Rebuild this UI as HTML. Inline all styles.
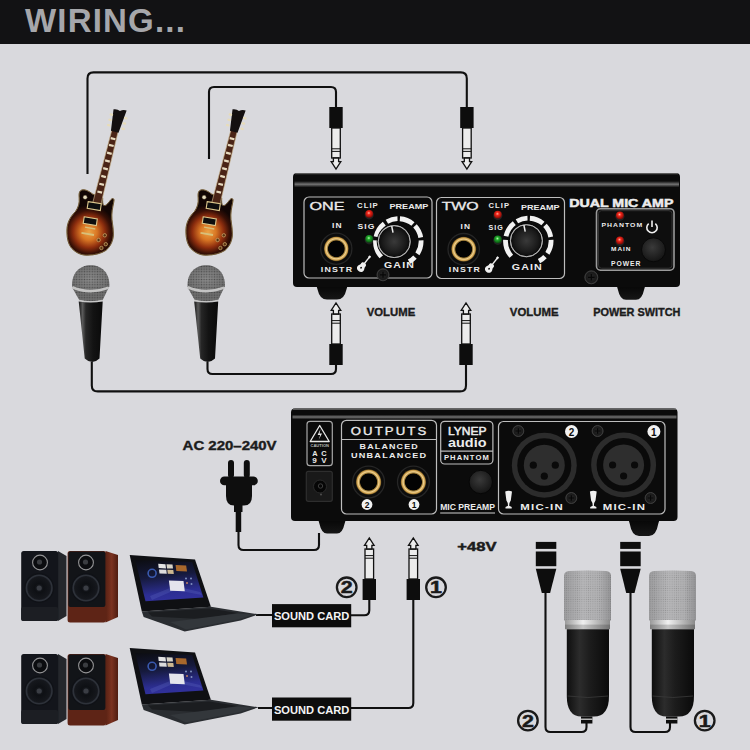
<!DOCTYPE html>
<html><head><meta charset="utf-8"><title>Wiring</title>
<style>
html,body{margin:0;padding:0;background:#d9d9dd;width:750px;height:750px;overflow:hidden}
svg{display:block}
text{font-family:"Liberation Sans",sans-serif}
</style></head><body>
<svg width="750" height="750" viewBox="0 0 750 750">
<defs>
  <g id="jackDown">
    <rect x="-6.7" y="0" width="13.4" height="21" fill="#0d0d0d"/>
    <rect x="-4.3" y="21" width="8.6" height="30" fill="#ececec" stroke="#111" stroke-width="1.3"/>
    <line x1="-4.3" y1="41.8" x2="4.3" y2="41.8" stroke="#111" stroke-width="1"/>
    <line x1="-4.3" y1="44.4" x2="4.3" y2="44.4" stroke="#111" stroke-width="1"/>
    <path d="M-2.6 51 L-2.6 54.6 L-4.8 54.6 L0 62 L4.8 54.6 L2.6 54.6 L2.6 51 Z" fill="#ececec" stroke="#111" stroke-width="1.3"/>
  </g>
  <radialGradient id="goldRing" cx="0.5" cy="0.5" r="0.5">
    <stop offset="0" stop-color="#030303"/>
    <stop offset="0.64" stop-color="#030303"/>
    <stop offset="0.69" stop-color="#8a6a2a"/>
    <stop offset="0.8" stop-color="#f2d28e"/>
    <stop offset="0.92" stop-color="#c89a48"/>
    <stop offset="1" stop-color="#4a3a18"/>
  </radialGradient>
  <radialGradient id="jackSurround" cx="0.5" cy="0.5" r="0.5">
    <stop offset="0.75" stop-color="#1e1e1e"/>
    <stop offset="1" stop-color="#0a0a0a"/>
  </radialGradient>
  <linearGradient id="devTop" x1="0" y1="0" x2="0" y2="1">
    <stop offset="0" stop-color="#3a3a3a"/>
    <stop offset="0.4" stop-color="#555"/>
    <stop offset="0.65" stop-color="#1c1c1c"/>
    <stop offset="1" stop-color="#0b0b0b"/>
  </linearGradient>
  <linearGradient id="hiBand" x1="0" y1="0" x2="0" y2="1">
    <stop offset="0" stop-color="#6a6a6a" stop-opacity="0"/>
    <stop offset="0.5" stop-color="#7a7a7a" stop-opacity="0.95"/>
    <stop offset="1" stop-color="#6a6a6a" stop-opacity="0"/>
  </linearGradient>
  <radialGradient id="knobG" cx="0.5" cy="0.5" r="0.5">
    <stop offset="0" stop-color="#3a3a3a"/>
    <stop offset="0.7" stop-color="#1a1a1a"/>
    <stop offset="0.9" stop-color="#0e0e0e"/>
    <stop offset="1" stop-color="#9a9a9a"/>
  </radialGradient>
  <radialGradient id="ledR" cx="0.45" cy="0.4" r="0.6">
    <stop offset="0" stop-color="#ffb0a0"/>
    <stop offset="0.35" stop-color="#f02418"/>
    <stop offset="1" stop-color="#7a0a06"/>
  </radialGradient>
  <radialGradient id="ledG" cx="0.45" cy="0.4" r="0.6">
    <stop offset="0" stop-color="#b8ffb0"/>
    <stop offset="0.35" stop-color="#1fa82a"/>
    <stop offset="1" stop-color="#0a4a10"/>
  </radialGradient>
  <radialGradient id="btnG" cx="0.45" cy="0.4" r="0.6">
    <stop offset="0" stop-color="#3a3a3a"/>
    <stop offset="1" stop-color="#151515"/>
  </radialGradient>
  <radialGradient id="screwG" cx="0.5" cy="0.5" r="0.5">
    <stop offset="0" stop-color="#262626"/>
    <stop offset="0.8" stop-color="#1a1a1a"/>
    <stop offset="1" stop-color="#3a3a3a"/>
  </radialGradient>
  <linearGradient id="footG" x1="0" y1="0" x2="0" y2="1">
    <stop offset="0" stop-color="#050505"/>
    <stop offset="1" stop-color="#161616"/>
  </linearGradient>
</defs>
<rect x="0" y="0" width="750" height="44" fill="#121214"/>
<text x="25" y="31.8" font-size="34" fill="#a6a7ab" font-weight="bold" textLength="161" lengthAdjust="spacingAndGlyphs" letter-spacing="1.2">WIRING...</text>
<g fill="none" stroke="#101010" stroke-width="2.1" stroke-linejoin="round">
  <path d="M87.5 174 V78.4 Q87.5 72.4 93.5 72.4 H460.8 Q466.8 72.4 466.8 78.4 V107"/>
  <path d="M209 159 V92 Q209 87 214 87 H331 Q336 87 336 92 V107"/>
  <path d="M91.8 362 V385.4 Q91.8 391.4 97.8 391.4 H460 Q466 391.4 466 385.4 V365"/>
  <path d="M207.5 362 V369 Q207.5 374 212.5 374 H331 Q336 374 336 369 V365"/>
  <path d="M238.5 530 V545 Q238.5 550 243.5 550 H314 Q319 550 319 545 V533"/>
  <path d="M256 615 H272 M351 615.3 H364.3 Q369.3 615.3 369.3 610.3 V600"/>
  <path d="M258 708 H272 M351 708 H408.3 Q413.3 708 413.3 703 V600"/>
  <path d="M545.5 593 V727 Q545.5 732 550.5 732 H581.5 Q586.5 732 586.5 727 V723"/>
  <path d="M630.5 593 V727 Q630.5 732 635.5 732 H665 Q670 732 670 727 V723"/>
</g>
<use href="#jackDown" transform="translate(336,107)"/>
<use href="#jackDown" transform="translate(466.9,107)"/>
<use href="#jackDown" transform="translate(336,365) scale(1,-1)"/>
<use href="#jackDown" transform="translate(466,365) scale(1,-1)"/>
<use href="#jackDown" transform="translate(369.3,600) scale(1,-1)"/>
<use href="#jackDown" transform="translate(413.3,600) scale(1,-1)"/>
<path d="M315.2 284 H348.8 Q346.8 287 346.3 290 Q344.3 299.5 337.00 299.5 H327.00 Q319.7 299.5 317.7 290 Q317.2 287 315.2 284 Z" fill="url(#footG)"/>
<path d="M615.5 284 H646.5 Q644.5 287 644.0 290 Q642.0 299.8 636.00 299.8 H626.00 Q620.0 299.8 618.0 290 Q617.5 287 615.5 284 Z" fill="url(#footG)"/>
<rect x="293" y="173" width="387" height="114" rx="4" fill="#0b0b0b"/>
<path d="M295 173.6 H678" stroke="#5a5a5a" stroke-width="1.4"/>
<rect x="294.5" y="181" width="384.5" height="6.5" fill="url(#hiBand)"/>
<rect x="304" y="197" width="128" height="81" rx="5" fill="none" stroke="#bdbdbd" stroke-width="1.2"/>
<rect x="436.5" y="197.5" width="128" height="81" rx="5" fill="none" stroke="#bdbdbd" stroke-width="1.2"/>
<text x="309.5" y="209.5" font-size="11" fill="#ececec" font-weight="normal" textLength="35" lengthAdjust="spacingAndGlyphs" stroke="#ececec" stroke-width="0.3">ONE</text>
<text x="357" y="207.8" font-size="6.6" fill="#ececec" font-weight="bold" textLength="21.8" lengthAdjust="spacingAndGlyphs" letter-spacing="0.9">CLIP</text>
<text x="389.5" y="208.8" font-size="8" fill="#ececec" font-weight="bold" textLength="38.8" lengthAdjust="spacingAndGlyphs" >PREAMP</text>
<text x="357.5" y="229.2" font-size="7" fill="#ececec" font-weight="bold" textLength="18" lengthAdjust="spacingAndGlyphs" letter-spacing="0.9">SIG</text>
<text x="332" y="228.2" font-size="7" fill="#ececec" font-weight="bold" textLength="10.6" lengthAdjust="spacingAndGlyphs" letter-spacing="0.9">IN</text>
<text x="320.8" y="271.8" font-size="6.6" fill="#ececec" font-weight="bold" textLength="32.4" lengthAdjust="spacingAndGlyphs" letter-spacing="0.9">INSTR</text>
<text x="384" y="268" font-size="8.2" fill="#ececec" font-weight="bold" textLength="31" lengthAdjust="spacingAndGlyphs" letter-spacing="0.9">GAIN</text>
<circle cx="369.2" cy="214.8" r="4.6" fill="#222"/>
<circle cx="369.2" cy="213.8" r="3.9" fill="url(#ledR)"/>
<circle cx="369.2" cy="239.8" r="4.6" fill="#222"/>
<circle cx="369.2" cy="238.8" r="3.9" fill="url(#ledG)"/>
<circle cx="336.3" cy="248.8" r="15.600000000000001" fill="#0c0c0c" stroke="#262626" stroke-width="1.3"/>
<circle cx="336.3" cy="248.8" r="12.4" fill="url(#goldRing)"/>
<path d="M381.36 256.76 A22.8 22.8 0 0 1 375.53 240.31 M376.00 236.76 A22.8 22.8 0 0 1 384.26 223.53 M386.90 221.75 A22.8 22.8 0 0 1 397.50 218.71 M399.89 218.76 A22.8 22.8 0 0 1 412.96 224.03 M414.97 225.95 A22.8 22.8 0 0 1 420.75 237.54 M421.07 240.31 A22.8 22.8 0 0 1 417.42 253.92 M414.97 257.05 A22.8 22.8 0 0 1 409.00 261.63" fill="none" stroke="#f2f2f2" stroke-width="4.8"/>
<circle cx="394.2" cy="241.6" r="17.5" fill="#050505"/>
<circle cx="394.2" cy="241.6" r="16.5" fill="url(#knobG)"/>
<circle cx="394.2" cy="241.6" r="16" fill="none" stroke="#b8b8b8" stroke-width="1"/>
<line x1="391.7" y1="226.1" x2="393.0" y2="232.6" stroke="#eee" stroke-width="1.5"/>
<g transform="translate(362,266.6) rotate(38)" fill="#f0f0f0"><rect x="-0.7" y="-12" width="1.4" height="9"/><rect x="-1.1" y="-13.5" width="2.2" height="2.5" rx="0.5"/><path d="M0 -4.5 C-2.2 -4.5 -3 -3.2 -2.6 -1.6 C-2.3 -0.5 -3.8 0.3 -3.8 2.2 C-3.8 4.4 -2 5.6 0 5.6 C2 5.6 3.8 4.4 3.8 2.2 C3.8 0.3 2.3 -0.5 2.6 -1.6 C3 -3.2 2.2 -4.5 0 -4.5 Z"/><circle cx="0" cy="1.5" r="0.9" fill="#0b0b0b"/></g>
<circle cx="383" cy="274.8" r="6" fill="url(#screwG)" stroke="#3c3c3c" stroke-width="1"/><path d="M380.0 274.8 L386.0 274.8 M383 271.8 L383 277.8" stroke="#070707" stroke-width="1.2"/>
<text x="441.7" y="210.3" font-size="11" fill="#ececec" font-weight="normal" textLength="37" lengthAdjust="spacingAndGlyphs" stroke="#ececec" stroke-width="0.3">TWO</text>
<text x="488.6" y="208.4" font-size="6.6" fill="#ececec" font-weight="bold" textLength="21.4" lengthAdjust="spacingAndGlyphs" letter-spacing="0.9">CLIP</text>
<text x="521" y="209.9" font-size="8" fill="#ececec" font-weight="bold" textLength="38.6" lengthAdjust="spacingAndGlyphs" >PREAMP</text>
<text x="488.6" y="230.2" font-size="7" fill="#ececec" font-weight="bold" textLength="15" lengthAdjust="spacingAndGlyphs" letter-spacing="0.9">SIG</text>
<text x="460.5" y="228.7" font-size="7" fill="#ececec" font-weight="bold" textLength="10.5" lengthAdjust="spacingAndGlyphs" letter-spacing="0.9">IN</text>
<text x="448.8" y="272.2" font-size="6.6" fill="#ececec" font-weight="bold" textLength="32.2" lengthAdjust="spacingAndGlyphs" letter-spacing="0.9">INSTR</text>
<text x="511.7" y="270.2" font-size="8.2" fill="#ececec" font-weight="bold" textLength="31.3" lengthAdjust="spacingAndGlyphs" letter-spacing="0.9">GAIN</text>
<circle cx="497.8" cy="215.6" r="4.6" fill="#222"/>
<circle cx="497.8" cy="214.6" r="3.9" fill="url(#ledR)"/>
<circle cx="497.8" cy="240.3" r="4.6" fill="#222"/>
<circle cx="497.8" cy="239.3" r="3.9" fill="url(#ledG)"/>
<circle cx="463.7" cy="249.2" r="15.7" fill="#0c0c0c" stroke="#262626" stroke-width="1.3"/>
<circle cx="463.7" cy="249.2" r="12.5" fill="url(#goldRing)"/>
<path d="M511.36 256.26 A22.8 22.8 0 0 1 505.53 239.81 M506.00 236.26 A22.8 22.8 0 0 1 514.26 223.03 M516.90 221.25 A22.8 22.8 0 0 1 527.50 218.21 M529.89 218.26 A22.8 22.8 0 0 1 542.96 223.53 M544.97 225.45 A22.8 22.8 0 0 1 550.75 237.04 M551.07 239.81 A22.8 22.8 0 0 1 547.42 253.42 M544.97 256.55 A22.8 22.8 0 0 1 539.00 261.13" fill="none" stroke="#f2f2f2" stroke-width="4.8"/>
<circle cx="526.4" cy="240.7" r="17.5" fill="#050505"/>
<circle cx="526.4" cy="240.7" r="16.5" fill="url(#knobG)"/>
<circle cx="526.4" cy="240.7" r="16" fill="none" stroke="#b8b8b8" stroke-width="1"/>
<line x1="523.9" y1="225.2" x2="525.1999999999999" y2="231.7" stroke="#eee" stroke-width="1.5"/>
<g transform="translate(490,267.5) rotate(38)" fill="#f0f0f0"><rect x="-0.7" y="-12" width="1.4" height="9"/><rect x="-1.1" y="-13.5" width="2.2" height="2.5" rx="0.5"/><path d="M0 -4.5 C-2.2 -4.5 -3 -3.2 -2.6 -1.6 C-2.3 -0.5 -3.8 0.3 -3.8 2.2 C-3.8 4.4 -2 5.6 0 5.6 C2 5.6 3.8 4.4 3.8 2.2 C3.8 0.3 2.3 -0.5 2.6 -1.6 C3 -3.2 2.2 -4.5 0 -4.5 Z"/><circle cx="0" cy="1.5" r="0.9" fill="#0b0b0b"/></g>
<text x="569.2" y="206.9" font-size="11" fill="#ececec" font-weight="bold" textLength="104.2" lengthAdjust="spacingAndGlyphs" stroke="#ececec" stroke-width="0.5">DUAL MIC AMP</text>
<rect x="596.5" y="208.7" width="77.5" height="61.5" rx="4" fill="#0e0e0e" stroke="#9a9a9a" stroke-width="1.6"/>
<rect x="598.5" y="210.7" width="73.5" height="57.5" rx="3" fill="none" stroke="#333" stroke-width="1"/>
<circle cx="619.9" cy="216.3" r="4.6" fill="#222"/>
<circle cx="619.9" cy="215.3" r="3.9" fill="url(#ledR)"/>
<text x="601.4" y="227.4" font-size="6" fill="#ececec" font-weight="bold" textLength="41.8" lengthAdjust="spacingAndGlyphs" letter-spacing="0.9">PHANTOM</text>
<circle cx="619.9" cy="241.4" r="4.6" fill="#222"/>
<circle cx="619.9" cy="240.4" r="3.9" fill="url(#ledR)"/>
<text x="611" y="250.9" font-size="6" fill="#ececec" font-weight="bold" textLength="20.5" lengthAdjust="spacingAndGlyphs" letter-spacing="0.9">MAIN</text>
<text x="611" y="265.7" font-size="6.4" fill="#ececec" font-weight="bold" textLength="30.4" lengthAdjust="spacingAndGlyphs" letter-spacing="0.9">POWER</text>
<path d="M655.34 223.52 A5.2 5.2 0 1 1 648.66 223.52" fill="none" stroke="#f0f0f0" stroke-width="1.6"/>
<line x1="652" y1="220.5" x2="652" y2="227" stroke="#f0f0f0" stroke-width="1.6"/>
<circle cx="653.5" cy="249.8" r="12" fill="url(#btnG)" stroke="#080808" stroke-width="1"/>
<circle cx="591.3" cy="277.3" r="6.5" fill="url(#screwG)" stroke="#3c3c3c" stroke-width="1"/><path d="M588.05 277.3 L594.55 277.3 M591.3 274.05 L591.3 280.55" stroke="#070707" stroke-width="1.2"/>
<text x="366.7" y="315.8" font-size="11" fill="#1c1c1c" font-weight="bold" textLength="48.6" lengthAdjust="spacingAndGlyphs" stroke="#1c1c1c" stroke-width="0.35">VOLUME</text>
<text x="509.8" y="315.8" font-size="11" fill="#1c1c1c" font-weight="bold" textLength="48.8" lengthAdjust="spacingAndGlyphs" stroke="#1c1c1c" stroke-width="0.35">VOLUME</text>
<text x="593.2" y="315.7" font-size="10.3" fill="#1c1c1c" font-weight="bold" textLength="87.2" lengthAdjust="spacingAndGlyphs" stroke="#1c1c1c" stroke-width="0.35">POWER SWITCH</text>
<path d="M317 518 H347 Q345 521 344.5 524 Q342.5 533.5 337.00 533.5 H327.00 Q321.5 533.5 319.5 524 Q319 521 317 518 Z" fill="url(#footG)"/>
<path d="M627.3 518 H660.7 Q658.7 521 658.2 524 Q656.2 536 649.00 536 H639.00 Q631.8 536 629.8 524 Q629.3 521 627.3 518 Z" fill="url(#footG)"/>
<rect x="291" y="408.5" width="386.5" height="112.5" rx="4" fill="#0b0b0b"/>
<path d="M293 409.2 H676" stroke="#5a5a5a" stroke-width="1.4"/>
<rect x="292.5" y="414.5" width="384" height="5" fill="url(#hiBand)"/>
<rect x="307" y="421.3" width="25.3" height="44.4" rx="3" fill="none" stroke="#a8a8a8" stroke-width="1.2"/>
<path d="M319.7 425.5 L329.2 441.5 L310.2 441.5 Z" fill="#0b0b0b" stroke="#e8e8e8" stroke-width="1.3" stroke-linejoin="round"/>
<path d="M320.5 429 L317.6 435 L320.2 435 L318.8 439.5 L322 433.5 L319.5 433.5 Z" fill="#e8e8e8"/>
<text x="310.5" y="446.5" font-size="2.8" fill="#bbb" font-weight="bold" textLength="18.5" lengthAdjust="spacingAndGlyphs" >CAUTION</text>
<text x="312.3" y="456.2" font-size="7" fill="#ececec" font-weight="bold" textLength="15.3" lengthAdjust="spacingAndGlyphs" letter-spacing="0.9">A C</text>
<text x="312.3" y="463.4" font-size="7" fill="#ececec" font-weight="bold" textLength="15.3" lengthAdjust="spacingAndGlyphs" letter-spacing="0.9">9 V</text>
<rect x="306.3" y="471.4" width="26" height="29.9" rx="2" fill="#191919" stroke="#2e2e2e" stroke-width="1.2"/>
<circle cx="320" cy="486.5" r="6.5" fill="#060606" stroke="#2a2a2a" stroke-width="1"/>
<circle cx="320.5" cy="486" r="2.2" fill="none" stroke="#444" stroke-width="0.9"/>
<circle cx="321" cy="494.5" r="0.9" fill="#555"/>
<rect x="341.5" y="420.3" width="95" height="93.7" rx="5" fill="none" stroke="#bdbdbd" stroke-width="1.2"/>
<line x1="341.5" y1="439.5" x2="436.5" y2="439.5" stroke="#bdbdbd" stroke-width="1.2"/>
<text x="350.7" y="435.3" font-size="10" fill="#ececec" font-weight="normal" textLength="77.6" lengthAdjust="spacingAndGlyphs" stroke="#ececec" stroke-width="0.3" letter-spacing="1.6">OUTPUTS</text>
<text x="359.6" y="449.1" font-size="6.8" fill="#ececec" font-weight="bold" textLength="59.3" lengthAdjust="spacingAndGlyphs" letter-spacing="0.9">BALANCED</text>
<text x="351" y="458.1" font-size="6.8" fill="#ececec" font-weight="bold" textLength="76.4" lengthAdjust="spacingAndGlyphs" letter-spacing="0.9">UNBALANCED</text>
<circle cx="368.6" cy="482" r="15.899999999999999" fill="#0c0c0c" stroke="#262626" stroke-width="1.3"/>
<circle cx="368.6" cy="482" r="12.7" fill="url(#goldRing)"/>
<circle cx="413.4" cy="482" r="15.899999999999999" fill="#0c0c0c" stroke="#262626" stroke-width="1.3"/>
<circle cx="413.4" cy="482" r="12.7" fill="url(#goldRing)"/>
<circle cx="367" cy="504.5" r="5.4" fill="#f2f2f2"/>
<text x="367" y="508" font-size="8.5" fill="#0b0b0b" font-weight="bold" text-anchor="middle" >2</text>
<circle cx="414" cy="504.5" r="5.4" fill="#f2f2f2"/>
<text x="414" y="508" font-size="8.5" fill="#0b0b0b" font-weight="bold" text-anchor="middle" >1</text>
<rect x="440.7" y="421.3" width="52.2" height="42.7" rx="4" fill="none" stroke="#bdbdbd" stroke-width="1.2"/>
<line x1="440.7" y1="451.2" x2="492.9" y2="451.2" stroke="#bdbdbd" stroke-width="1.2"/>
<text x="448" y="435.3" font-size="11.5" fill="#ececec" font-weight="normal" textLength="38.5" lengthAdjust="spacingAndGlyphs" stroke="#ececec" stroke-width="0.5">LYNEP</text>
<text x="448" y="447" font-size="12.5" fill="#ececec" font-weight="bold" textLength="38.5" lengthAdjust="spacingAndGlyphs" >audio</text>
<text x="443.9" y="459.8" font-size="6.4" fill="#ececec" font-weight="bold" textLength="46" lengthAdjust="spacingAndGlyphs" letter-spacing="0.9">PHANTOM</text>
<circle cx="480.8" cy="482" r="11.7" fill="url(#btnG)" stroke="#060606" stroke-width="1"/>
<text x="440.2" y="510.4" font-size="8.2" fill="#ececec" font-weight="bold" textLength="54.8" lengthAdjust="spacingAndGlyphs" >MIC PREAMP</text>
<line x1="440.2" y1="513" x2="495" y2="513" stroke="#d0d0d0" stroke-width="1"/>
<rect x="498.5" y="421.5" width="166.5" height="92.5" rx="5" fill="none" stroke="#bdbdbd" stroke-width="1.2"/>
<circle cx="544.3" cy="465.2" r="32.5" fill="#2c2c2c"/>
<circle cx="544.3" cy="465.2" r="27" fill="#0a0a0a"/>
<circle cx="544.3" cy="465.2" r="20.5" fill="#2e2e2e"/>
<circle cx="533.3" cy="465.2" r="3.6" fill="#0a0a0a"/>
<circle cx="555.3" cy="465.2" r="3.6" fill="#0a0a0a"/>
<circle cx="544.3" cy="476.2" r="3.6" fill="#0a0a0a"/>
<circle cx="518.3" cy="431" r="5.5" fill="url(#screwG)" stroke="#3c3c3c" stroke-width="1"/><path d="M515.55 431 L521.05 431 M518.3 428.25 L518.3 433.75" stroke="#070707" stroke-width="1.2"/>
<circle cx="571.3" cy="498" r="5.5" fill="url(#screwG)" stroke="#3c3c3c" stroke-width="1"/><path d="M568.55 498 L574.05 498 M571.3 495.25 L571.3 500.75" stroke="#070707" stroke-width="1.2"/>
<circle cx="571.5" cy="431.5" r="6.5" fill="#f2f2f2"/>
<text x="571.5" y="435.8" font-size="10" fill="#0b0b0b" font-weight="bold" text-anchor="middle" >2</text>
<circle cx="623.6" cy="465" r="32.5" fill="#2c2c2c"/>
<circle cx="623.6" cy="465" r="27" fill="#0a0a0a"/>
<circle cx="623.6" cy="465" r="20.5" fill="#2e2e2e"/>
<circle cx="612.6" cy="465" r="3.6" fill="#0a0a0a"/>
<circle cx="634.6" cy="465" r="3.6" fill="#0a0a0a"/>
<circle cx="623.6" cy="476" r="3.6" fill="#0a0a0a"/>
<circle cx="597.6" cy="431" r="5.5" fill="url(#screwG)" stroke="#3c3c3c" stroke-width="1"/><path d="M594.85 431 L600.35 431 M597.6 428.25 L597.6 433.75" stroke="#070707" stroke-width="1.2"/>
<circle cx="650.6" cy="498" r="5.5" fill="url(#screwG)" stroke="#3c3c3c" stroke-width="1"/><path d="M647.85 498 L653.35 498 M650.6 495.25 L650.6 500.75" stroke="#070707" stroke-width="1.2"/>
<circle cx="653.9" cy="431.5" r="6.5" fill="#f2f2f2"/>
<text x="653.9" y="435.8" font-size="10" fill="#0b0b0b" font-weight="bold" text-anchor="middle" >1</text>
<path d="M505.2 491.5 Q508.59999999999997 490 512.0 491.5 L510.8 500.5 Q509.4 502 509.2 505.8 L511.7 507 L511.7 508.6 L505.5 508.6 L505.5 507 L508.0 505.8 Q507.8 502 506.4 500.5 Z" fill="#f0f0f0"/>
<text x="520.3" y="510" font-size="8.2" fill="#ececec" font-weight="bold" textLength="43.6" lengthAdjust="spacingAndGlyphs" letter-spacing="0.9">MIC-IN</text>
<path d="M589.9 491.5 Q593.3 490 596.6999999999999 491.5 L595.5 500.5 Q594.1 502 593.9 505.8 L596.4 507 L596.4 508.6 L590.1999999999999 508.6 L590.1999999999999 507 L592.6999999999999 505.8 Q592.5 502 591.1 500.5 Z" fill="#f0f0f0"/>
<text x="602.7" y="510" font-size="8.2" fill="#ececec" font-weight="bold" textLength="43.6" lengthAdjust="spacingAndGlyphs" letter-spacing="0.9">MIC-IN</text>
<text x="182.6" y="449.7" font-size="13" fill="#1c1c1c" font-weight="bold" textLength="94" lengthAdjust="spacingAndGlyphs" stroke="#1c1c1c" stroke-width="0.4">AC 220–240V</text>
<rect x="228" y="460" width="6" height="18" rx="3" fill="#0e0e0e"/>
<rect x="243.8" y="460" width="6" height="18" rx="3" fill="#0e0e0e"/>
<rect x="220" y="476.5" width="37.8" height="8.8" rx="4.4" fill="#0e0e0e"/>
<path d="M226 480 H252 V496 Q252 505.5 244 505.5 H234 Q226 505.5 226 496 Z" fill="#0e0e0e"/>
<rect x="234" y="504" width="8.5" height="8" fill="#0e0e0e"/>
<rect x="235.7" y="511" width="5.5" height="21" fill="#0e0e0e"/>
<rect x="272" y="604.1" width="79.2" height="23.2" fill="#0d0d0d"/>
<text x="273.9" y="620.1" font-size="11.6" fill="#f4f4f4" font-weight="bold" textLength="75.4" lengthAdjust="spacingAndGlyphs" >SOUND CARD</text>
<rect x="272" y="697.5" width="79.2" height="23.2" fill="#0d0d0d"/>
<text x="273.9" y="713.5" font-size="11.6" fill="#f4f4f4" font-weight="bold" textLength="75.4" lengthAdjust="spacingAndGlyphs" >SOUND CARD</text>
<circle cx="346.7" cy="587.3" r="9.8" fill="none" stroke="#1a1a1a" stroke-width="2.3"/>
<text transform="translate(346.7,593.3) scale(1.3,1)" x="0" y="0" font-size="16.5" font-weight="bold" fill="#1a1a1a" stroke="#1a1a1a" stroke-width="0.5" text-anchor="middle">2</text>
<circle cx="436" cy="587.3" r="9.8" fill="none" stroke="#1a1a1a" stroke-width="2.3"/>
<text transform="translate(436,593.3) scale(1.3,1)" x="0" y="0" font-size="16.5" font-weight="bold" fill="#1a1a1a" stroke="#1a1a1a" stroke-width="0.5" text-anchor="middle">1</text>
<circle cx="527.9" cy="720.6" r="9.8" fill="none" stroke="#1a1a1a" stroke-width="2.3"/>
<text transform="translate(527.9,726.6) scale(1.3,1)" x="0" y="0" font-size="16.5" font-weight="bold" fill="#1a1a1a" stroke="#1a1a1a" stroke-width="0.5" text-anchor="middle">2</text>
<circle cx="704.7" cy="720.6" r="9.8" fill="none" stroke="#1a1a1a" stroke-width="2.3"/>
<text transform="translate(704.7,726.6) scale(1.3,1)" x="0" y="0" font-size="16.5" font-weight="bold" fill="#1a1a1a" stroke="#1a1a1a" stroke-width="0.5" text-anchor="middle">1</text>
<text x="457.3" y="550.8" font-size="13.6" fill="#1c1c1c" font-weight="bold" textLength="39.2" lengthAdjust="spacingAndGlyphs" stroke="#1c1c1c" stroke-width="0.5">+48V</text>
<rect x="535.8" y="541.9" width="20.5" height="7" fill="#0d0d0d"/>
<rect x="535.8" y="551.5" width="20.5" height="14.7" fill="#0d0d0d"/>
<path d="M535.8 568.8 H556.3 L550.0999999999999 593.1 H541.8 Z" fill="#0d0d0d"/>
<path d="M564 576 Q564 571.3 569 571 Q587.5 570 606 571 Q611 571.3 611 576 V620.5 H564 Z" fill="url(#condMesh)"/>
<path d="M564 576 Q564 571.3 569 571 Q587.5 570 606 571 Q611 571.3 611 576 V620.5 H564 Z" fill="url(#meshDots)" opacity="0.6"/>
<rect x="565" y="620" width="45" height="9.2" fill="url(#condBand)"/>
<rect x="565" y="624.6" width="45" height="4.6" fill="#000" opacity="0.18"/>
<path d="M566.8 629.2 H609 V696 Q609 716.5 594 716.5 H581.5 Q566.8 716.5 566.8 696 Z" fill="url(#condBody)"/>
<path d="M567.5 696 Q587.9 699 608.3 696" stroke="#3a3a3a" stroke-width="0.8" fill="none"/>
<rect x="581" y="716.5" width="11.4" height="7" fill="#0d0d0d"/>
<rect x="581" y="718.6" width="11.4" height="1.2" fill="#e0e0e0"/>
<rect x="620.2" y="541.9" width="20.5" height="7" fill="#0d0d0d"/>
<rect x="620.2" y="551.5" width="20.5" height="14.7" fill="#0d0d0d"/>
<path d="M620.2 568.8 H640.7 L634.5 593.1 H626.2 Z" fill="#0d0d0d"/>
<path d="M649 576 Q649 571.3 654 571 Q672.5 570 691 571 Q696 571.3 696 576 V620.5 H649 Z" fill="url(#condMesh)"/>
<path d="M649 576 Q649 571.3 654 571 Q672.5 570 691 571 Q696 571.3 696 576 V620.5 H649 Z" fill="url(#meshDots)" opacity="0.6"/>
<rect x="650" y="620" width="45" height="9.2" fill="url(#condBand)"/>
<rect x="650" y="624.6" width="45" height="4.6" fill="#000" opacity="0.18"/>
<path d="M651.8 629.2 H694 V696 Q694 716.5 679 716.5 H666.5 Q651.8 716.5 651.8 696 Z" fill="url(#condBody)"/>
<path d="M652.5 696 Q672.9 699 693.3 696" stroke="#3a3a3a" stroke-width="0.8" fill="none"/>
<rect x="666" y="716.5" width="11.4" height="7" fill="#0d0d0d"/>
<rect x="666" y="718.6" width="11.4" height="1.2" fill="#e0e0e0"/>
<defs>
  <radialGradient id="sunburst" gradientUnits="userSpaceOnUse" cx="89" cy="232" r="27">
    <stop offset="0" stop-color="#eca446"/>
    <stop offset="0.3" stop-color="#d87624"/>
    <stop offset="0.58" stop-color="#8e2e0e"/>
    <stop offset="0.8" stop-color="#381006"/>
    <stop offset="1" stop-color="#120604"/>
  </radialGradient>
  <linearGradient id="micHandle" x1="0" y1="0" x2="1" y2="0">
    <stop offset="0" stop-color="#141414"/>
    <stop offset="0.16" stop-color="#5a5a5a"/>
    <stop offset="0.3" stop-color="#262626"/>
    <stop offset="0.6" stop-color="#131313"/>
    <stop offset="1" stop-color="#0a0a0a"/>
  </linearGradient>
  <radialGradient id="micDome" cx="0.5" cy="0.55" r="0.65">
    <stop offset="0" stop-color="#8a8a8a"/>
    <stop offset="0.7" stop-color="#747474"/>
    <stop offset="1" stop-color="#5a5a5a"/>
  </radialGradient>
  <linearGradient id="micBand" x1="0" y1="0" x2="0" y2="1">
    <stop offset="0" stop-color="#e6e6e6"/>
    <stop offset="1" stop-color="#9a9a9a"/>
  </linearGradient>
  <linearGradient id="condMesh" x1="0" y1="0" x2="1" y2="0">
    <stop offset="0" stop-color="#9c9c9e"/>
    <stop offset="0.4" stop-color="#b6b6b8"/>
    <stop offset="0.75" stop-color="#b0b0b2"/>
    <stop offset="1" stop-color="#949496"/>
  </linearGradient>
  <linearGradient id="condBand" x1="0" y1="0" x2="1" y2="0">
    <stop offset="0" stop-color="#9a9a9a"/>
    <stop offset="0.4" stop-color="#f0f0f0"/>
    <stop offset="1" stop-color="#8a8a8a"/>
  </linearGradient>
  <linearGradient id="condBody" x1="0" y1="0" x2="1" y2="0">
    <stop offset="0" stop-color="#0e0e0e"/>
    <stop offset="0.3" stop-color="#2c2c2c"/>
    <stop offset="0.55" stop-color="#1c1c1c"/>
    <stop offset="1" stop-color="#0a0a0a"/>
  </linearGradient>
  <pattern id="meshDots" width="2.2" height="2.2" patternUnits="userSpaceOnUse">
    <circle cx="1.1" cy="1.1" r="0.55" fill="#555" opacity="0.55"/>
  </pattern>
  <pattern id="meshDots2" width="2.6" height="2.6" patternUnits="userSpaceOnUse">
    <circle cx="1.3" cy="1.3" r="0.75" fill="#2e2e2e" opacity="0.6"/>
  </pattern>
  <linearGradient id="wood" x1="0" y1="0" x2="1" y2="0">
    <stop offset="0" stop-color="#5a2214"/>
    <stop offset="0.5" stop-color="#7a3220"/>
    <stop offset="1" stop-color="#4e1c10"/>
  </linearGradient>
  <linearGradient id="screenG" x1="0" y1="0" x2="0.2" y2="1">
    <stop offset="0" stop-color="#0c0d12"/>
    <stop offset="0.45" stop-color="#161a3c"/>
    <stop offset="0.85" stop-color="#2c2e92"/>
    <stop offset="1" stop-color="#30309a"/>
  </linearGradient>
  <radialGradient id="wooferG" cx="0.5" cy="0.5" r="0.5">
    <stop offset="0" stop-color="#22252c"/>
    <stop offset="0.35" stop-color="#0e1014"/>
    <stop offset="0.85" stop-color="#15171c"/>
    <stop offset="1" stop-color="#20232a"/>
  </radialGradient>
</defs>
<g transform="translate(0,0)"><path d="M92.5 194 C89 191 85 189.3 82.5 189.8 C79 190.5 78.8 194 79.2 198 C79.6 203 78.5 207 75.5 211.5 C71 216 67 222 66.9 230.2 C66.8 240 69 245 71.7 248.3 C76 253 82 255.5 87.7 255.2 C95 255 101 253.5 105.9 250.4 C111 246 113.5 240 113.4 233.4 C113.3 226 111.6 221 111.8 215 C112 209 113.6 204 114 200.5 C114.2 198.5 112.6 197.8 111 199.6 C108.5 202.5 106.5 206 104 205.5 C102.5 205 102.5 201 102.7 198.1 Z" fill="url(#sunburst)" stroke="#c8aa6a" stroke-width="0.9"/><path d="M92.5 194 C89 191 85 189.3 82.5 189.8 C79 190.5 78.8 194 79.2 198 C79.6 203 78.5 207 75.5 211.5 C71 216 67 222 66.9 230.2 C66.8 240 69 245 71.7 248.3 C76 253 82 255.5 87.7 255.2 C95 255 101 253.5 105.9 250.4 C111 246 113.5 240 113.4 233.4 C113.3 226 111.6 221 111.8 215 C112 209 113.6 204 114 200.5 C114.2 198.5 112.6 197.8 111 199.6 C108.5 202.5 106.5 206 104 205.5 C102.5 205 102.5 201 102.7 198.1 Z" fill="none" stroke="#1a0c06" stroke-width="0.5"/><circle cx="85.1" cy="197.3" r="2" fill="#e6dcc0" stroke="#6a5a3a" stroke-width="0.4"/></g><g transform="translate(92,223) rotate(14)"><path d="M-4.2 -19 L-3.2 -96 L3.2 -96 L4.2 -19 Z" fill="#4a2416" stroke="#c9b48a" stroke-width="0.6"/><rect x="-2.4" y="-33" width="4.8" height="2.2" fill="#e8dcc0"/><rect x="-2.4" y="-41" width="4.8" height="2.2" fill="#e8dcc0"/><rect x="-2.4" y="-49" width="4.8" height="2.2" fill="#e8dcc0"/><rect x="-2.4" y="-57" width="4.8" height="2.2" fill="#e8dcc0"/><rect x="-2.4" y="-65" width="4.8" height="2.2" fill="#e8dcc0"/><rect x="-2.4" y="-73" width="4.8" height="2.2" fill="#e8dcc0"/><rect x="-2.4" y="-81" width="4.8" height="2.2" fill="#e8dcc0"/><rect x="-2.4" y="-88" width="4.8" height="2.2" fill="#e8dcc0"/><path d="M-3.9 -94 L-6.6 -115.5 Q-3 -117 0 -115.5 Q3 -118 6.4 -117.5 L3.9 -94 Z" fill="#141010"/><rect x="-9.2" y="-100" width="3.6" height="2.2" rx="1" fill="#e8dcb8"/><rect x="5.6" y="-100" width="3.6" height="2.2" rx="1" fill="#e8dcb8"/><rect x="-9.2" y="-105.5" width="3.6" height="2.2" rx="1" fill="#e8dcb8"/><rect x="5.6" y="-105.5" width="3.6" height="2.2" rx="1" fill="#e8dcb8"/><rect x="-9.2" y="-111" width="3.6" height="2.2" rx="1" fill="#e8dcb8"/><rect x="5.6" y="-111" width="3.6" height="2.2" rx="1" fill="#e8dcb8"/></g><g transform="translate(0,0)"><polygon points="88.2,201.6 101.3,203.8 100.3,210.6 87.2,208.4" fill="#0e0e0e" stroke="#dcc78c" stroke-width="1.1"/><polygon points="84.2,216.8 97.3,219 96.3,225.6 83.2,223.4" fill="#0e0e0e" stroke="#dcc78c" stroke-width="1.1"/><line x1="85" y1="227.2" x2="95.3" y2="229" stroke="#d8c07a" stroke-width="1.3"/><line x1="81.5" y1="232.8" x2="94" y2="235" stroke="#d8c07a" stroke-width="1.8"/><circle cx="104.8" cy="235.3" r="1.7" fill="#5a3010" stroke="#d0b070" stroke-width="0.7"/><circle cx="98.6" cy="240" r="1.7" fill="#5a3010" stroke="#d0b070" stroke-width="0.7"/><circle cx="105.8" cy="244.2" r="1.7" fill="#5a3010" stroke="#d0b070" stroke-width="0.7"/><circle cx="101.4" cy="248" r="1.7" fill="#5a3010" stroke="#d0b070" stroke-width="0.7"/></g>
<g transform="translate(119,0)"><path d="M92.5 194 C89 191 85 189.3 82.5 189.8 C79 190.5 78.8 194 79.2 198 C79.6 203 78.5 207 75.5 211.5 C71 216 67 222 66.9 230.2 C66.8 240 69 245 71.7 248.3 C76 253 82 255.5 87.7 255.2 C95 255 101 253.5 105.9 250.4 C111 246 113.5 240 113.4 233.4 C113.3 226 111.6 221 111.8 215 C112 209 113.6 204 114 200.5 C114.2 198.5 112.6 197.8 111 199.6 C108.5 202.5 106.5 206 104 205.5 C102.5 205 102.5 201 102.7 198.1 Z" fill="url(#sunburst)" stroke="#c8aa6a" stroke-width="0.9"/><path d="M92.5 194 C89 191 85 189.3 82.5 189.8 C79 190.5 78.8 194 79.2 198 C79.6 203 78.5 207 75.5 211.5 C71 216 67 222 66.9 230.2 C66.8 240 69 245 71.7 248.3 C76 253 82 255.5 87.7 255.2 C95 255 101 253.5 105.9 250.4 C111 246 113.5 240 113.4 233.4 C113.3 226 111.6 221 111.8 215 C112 209 113.6 204 114 200.5 C114.2 198.5 112.6 197.8 111 199.6 C108.5 202.5 106.5 206 104 205.5 C102.5 205 102.5 201 102.7 198.1 Z" fill="none" stroke="#1a0c06" stroke-width="0.5"/><circle cx="85.1" cy="197.3" r="2" fill="#e6dcc0" stroke="#6a5a3a" stroke-width="0.4"/></g><g transform="translate(211,223) rotate(14)"><path d="M-4.2 -19 L-3.2 -96 L3.2 -96 L4.2 -19 Z" fill="#4a2416" stroke="#c9b48a" stroke-width="0.6"/><rect x="-2.4" y="-33" width="4.8" height="2.2" fill="#e8dcc0"/><rect x="-2.4" y="-41" width="4.8" height="2.2" fill="#e8dcc0"/><rect x="-2.4" y="-49" width="4.8" height="2.2" fill="#e8dcc0"/><rect x="-2.4" y="-57" width="4.8" height="2.2" fill="#e8dcc0"/><rect x="-2.4" y="-65" width="4.8" height="2.2" fill="#e8dcc0"/><rect x="-2.4" y="-73" width="4.8" height="2.2" fill="#e8dcc0"/><rect x="-2.4" y="-81" width="4.8" height="2.2" fill="#e8dcc0"/><rect x="-2.4" y="-88" width="4.8" height="2.2" fill="#e8dcc0"/><path d="M-3.9 -94 L-6.6 -115.5 Q-3 -117 0 -115.5 Q3 -118 6.4 -117.5 L3.9 -94 Z" fill="#141010"/><rect x="-9.2" y="-100" width="3.6" height="2.2" rx="1" fill="#e8dcb8"/><rect x="5.6" y="-100" width="3.6" height="2.2" rx="1" fill="#e8dcb8"/><rect x="-9.2" y="-105.5" width="3.6" height="2.2" rx="1" fill="#e8dcb8"/><rect x="5.6" y="-105.5" width="3.6" height="2.2" rx="1" fill="#e8dcb8"/><rect x="-9.2" y="-111" width="3.6" height="2.2" rx="1" fill="#e8dcb8"/><rect x="5.6" y="-111" width="3.6" height="2.2" rx="1" fill="#e8dcb8"/></g><g transform="translate(119,0)"><polygon points="88.2,201.6 101.3,203.8 100.3,210.6 87.2,208.4" fill="#0e0e0e" stroke="#dcc78c" stroke-width="1.1"/><polygon points="84.2,216.8 97.3,219 96.3,225.6 83.2,223.4" fill="#0e0e0e" stroke="#dcc78c" stroke-width="1.1"/><line x1="85" y1="227.2" x2="95.3" y2="229" stroke="#d8c07a" stroke-width="1.3"/><line x1="81.5" y1="232.8" x2="94" y2="235" stroke="#d8c07a" stroke-width="1.8"/><circle cx="104.8" cy="235.3" r="1.7" fill="#5a3010" stroke="#d0b070" stroke-width="0.7"/><circle cx="98.6" cy="240" r="1.7" fill="#5a3010" stroke="#d0b070" stroke-width="0.7"/><circle cx="105.8" cy="244.2" r="1.7" fill="#5a3010" stroke="#d0b070" stroke-width="0.7"/><circle cx="101.4" cy="248" r="1.7" fill="#5a3010" stroke="#d0b070" stroke-width="0.7"/></g>
<path d="M72.1 287 C71.2 273 79.7 265.2 90.7 265.2 C101.7 265.2 110.2 273 109.30000000000001 287 Q90.7 294 72.1 287 Z" fill="url(#micDome)"/>
<path d="M72.1 287 C71.2 273 79.7 265.2 90.7 265.2 C101.7 265.2 110.2 273 109.30000000000001 287 Q90.7 294 72.1 287 Z" fill="url(#meshDots2)"/>
<path d="M72.5 288 Q89.7 295.5 108.2 288.5 L102.7 300 Q90.7 303 79.2 300 Z" fill="#6e6e6e"/>
<path d="M72.5 288 Q89.7 295.5 108.2 288.5 L102.7 300 Q90.7 303 79.2 300 Z" fill="url(#meshDots2)"/>
<path d="M72.30000000000001 287.2 Q89.7 294.8 108.7 287.6" stroke="#c4c4c4" stroke-width="2.6" fill="none"/>
<path d="M78.9 300.5 Q90.7 303.5 102.7 300.5" stroke="#c8c8c8" stroke-width="1.6" fill="none"/>
<path d="M78.7 301.5 Q90.7 303.5 102.7 301.5 L99.5 358.5 Q92.2 365.5 84.7 358.5 Z" fill="url(#micHandle)"/>
<path d="M187.6 287 C186.7 273 195.2 265.2 206.2 265.2 C217.2 265.2 225.7 273 224.79999999999998 287 Q206.2 294 187.6 287 Z" fill="url(#micDome)"/>
<path d="M187.6 287 C186.7 273 195.2 265.2 206.2 265.2 C217.2 265.2 225.7 273 224.79999999999998 287 Q206.2 294 187.6 287 Z" fill="url(#meshDots2)"/>
<path d="M188.0 288 Q205.2 295.5 223.7 288.5 L218.2 300 Q206.2 303 194.7 300 Z" fill="#6e6e6e"/>
<path d="M188.0 288 Q205.2 295.5 223.7 288.5 L218.2 300 Q206.2 303 194.7 300 Z" fill="url(#meshDots2)"/>
<path d="M187.79999999999998 287.2 Q205.2 294.8 224.2 287.6" stroke="#c4c4c4" stroke-width="2.6" fill="none"/>
<path d="M194.39999999999998 300.5 Q206.2 303.5 218.2 300.5" stroke="#c8c8c8" stroke-width="1.6" fill="none"/>
<path d="M194.2 301.5 Q206.2 303.5 218.2 301.5 L215.0 358.5 Q207.7 365.5 200.2 358.5 Z" fill="url(#micHandle)"/>
<path d="M58 551 L66.5 556 L66.5 616 L58 621 Z" fill="#25272c"/>
<rect x="21.2" y="551" width="37" height="70" rx="2.5" fill="#13151b"/>
<rect x="21.2" y="607" width="37" height="14" rx="2" fill="#1c1e23"/>
<path d="M105.5 551 L118 555 L118 617 L105.5 622.5 Z" fill="url(#wood)"/>
<rect x="67.6" y="551" width="38.4" height="71.5" rx="2.5" fill="#5e2416"/>
<rect x="68.4" y="551.6" width="37" height="55.5" rx="2" fill="#121418"/>
<circle cx="40" cy="562.5" r="7.4" fill="#0b0c0f" stroke="#939395" stroke-width="1.1"/>
<circle cx="39.5" cy="562" r="2.6" fill="#3a3c40"/>
<circle cx="39.2" cy="588" r="15" fill="#101217"/>
<circle cx="39.2" cy="588" r="12.8" fill="url(#wooferG)" stroke="#2e323a" stroke-width="1.6"/>
<circle cx="39.2" cy="588" r="2.6" fill="#3a3d44"/>
<circle cx="86" cy="562.5" r="7.4" fill="#0b0c0f" stroke="#939395" stroke-width="1.1"/>
<circle cx="85.5" cy="562" r="2.6" fill="#3a3c40"/>
<circle cx="86" cy="588" r="15" fill="#101217"/>
<circle cx="86" cy="588" r="12.8" fill="url(#wooferG)" stroke="#2e323a" stroke-width="1.6"/>
<circle cx="86" cy="588" r="2.6" fill="#3a3d44"/>
<path d="M58 654 L66.5 659 L66.5 719 L58 724 Z" fill="#25272c"/>
<rect x="21.2" y="654" width="37" height="70" rx="2.5" fill="#13151b"/>
<rect x="21.2" y="710" width="37" height="14" rx="2" fill="#1c1e23"/>
<path d="M105.5 654 L118 658 L118 720 L105.5 725.5 Z" fill="url(#wood)"/>
<rect x="67.6" y="654" width="38.4" height="71.5" rx="2.5" fill="#5e2416"/>
<rect x="68.4" y="654.6" width="37" height="55.5" rx="2" fill="#121418"/>
<circle cx="40" cy="665.5" r="7.4" fill="#0b0c0f" stroke="#939395" stroke-width="1.1"/>
<circle cx="39.5" cy="665" r="2.6" fill="#3a3c40"/>
<circle cx="39.2" cy="691" r="15" fill="#101217"/>
<circle cx="39.2" cy="691" r="12.8" fill="url(#wooferG)" stroke="#2e323a" stroke-width="1.6"/>
<circle cx="39.2" cy="691" r="2.6" fill="#3a3d44"/>
<circle cx="86" cy="665.5" r="7.4" fill="#0b0c0f" stroke="#939395" stroke-width="1.1"/>
<circle cx="85.5" cy="665" r="2.6" fill="#3a3c40"/>
<circle cx="86" cy="691" r="15" fill="#101217"/>
<circle cx="86" cy="691" r="12.8" fill="url(#wooferG)" stroke="#2e323a" stroke-width="1.6"/>
<circle cx="86" cy="691" r="2.6" fill="#3a3d44"/>
<polygon points="141.8,611.5 210.9,606.8 258.5,614.3 240.7,620.5 184.7,631.5 143.7,617.0" fill="#2a2d31"/>
<polygon points="148.0,612.5 209.0,608.5 238.0,613.0 200.0,619.0 152.0,616.5" fill="#1b1d20"/>
<polygon points="170.0,622.0 238.0,613.5 254.0,614.5 238.0,619.5 186.0,629.5" fill="#33373b"/>
<polygon points="129.7,555.1 195.0,559.6 210.9,606.8 141.8,611.5" fill="#0f1013"/>
<polygon points="135.3,560.1 192.2,562.0 203.4,597.5 145.5,601.2" fill="url(#screenG)"/>
<polygon points="150.0,596.0 175.0,586.0 200.0,592.0 202.0,595.0 175.0,590.0 152.0,600.0" fill="#7a86d8" opacity="0.2"/>
<polygon points="158.2,563.8 165.5,564.2 166.0,568.4 158.7,568.0" fill="#e4e4e4"/>
<polygon points="166.5,564.2 172.5,564.5 173.0,568.6 167.0,568.4" fill="#d8d4c8"/>
<polygon points="159.0,569.4 166.3,569.8 166.8,573.8 159.5,573.5" fill="#dcdcdc"/>
<polygon points="167.3,569.8 173.3,570.0 173.8,574.0 167.8,573.8" fill="#cdb890"/>
<polygon points="175.6,565.0 186.2,565.6 187.0,571.4 176.3,571.0" fill="#a8682c"/>
<circle cx="152.1" cy="573.3" r="4" fill="none" stroke="#3a5ab0" stroke-width="1.6"/>
<polygon points="168.9,580.5 183.5,581.0 184.8,591.2 170.2,590.8" fill="#e4e4ec"/>
<circle cx="186" cy="578.5" r="1" fill="#8090c0"/><circle cx="191" cy="578.5" r="1" fill="#8090c0"/><circle cx="187" cy="583" r="1" fill="#c08060"/><circle cx="191.5" cy="584" r="1" fill="#8090c0"/>
<polygon points="141.8,704.5 210.9,699.8 258.5,707.3 240.7,713.5 184.7,724.5 143.7,710.0" fill="#2a2d31"/>
<polygon points="148.0,705.5 209.0,701.5 238.0,706.0 200.0,712.0 152.0,709.5" fill="#1b1d20"/>
<polygon points="170.0,715.0 238.0,706.5 254.0,707.5 238.0,712.5 186.0,722.5" fill="#33373b"/>
<polygon points="129.7,648.1 195.0,652.6 210.9,699.8 141.8,704.5" fill="#0f1013"/>
<polygon points="135.3,653.1 192.2,655.0 203.4,690.5 145.5,694.2" fill="url(#screenG)"/>
<polygon points="150.0,689.0 175.0,679.0 200.0,685.0 202.0,688.0 175.0,683.0 152.0,693.0" fill="#7a86d8" opacity="0.2"/>
<polygon points="158.2,656.8 165.5,657.2 166.0,661.4 158.7,661.0" fill="#e4e4e4"/>
<polygon points="166.5,657.2 172.5,657.5 173.0,661.6 167.0,661.4" fill="#d8d4c8"/>
<polygon points="159.0,662.4 166.3,662.8 166.8,666.8 159.5,666.5" fill="#dcdcdc"/>
<polygon points="167.3,662.8 173.3,663.0 173.8,667.0 167.8,666.8" fill="#cdb890"/>
<polygon points="175.6,658.0 186.2,658.6 187.0,664.4 176.3,664.0" fill="#a8682c"/>
<circle cx="152.1" cy="666.3" r="4" fill="none" stroke="#3a5ab0" stroke-width="1.6"/>
<polygon points="168.9,673.5 183.5,674.0 184.8,684.2 170.2,683.8" fill="#e4e4ec"/>
<circle cx="186" cy="671.5" r="1" fill="#8090c0"/><circle cx="191" cy="671.5" r="1" fill="#8090c0"/><circle cx="187" cy="676" r="1" fill="#c08060"/><circle cx="191.5" cy="677" r="1" fill="#8090c0"/></svg>
</body></html>
